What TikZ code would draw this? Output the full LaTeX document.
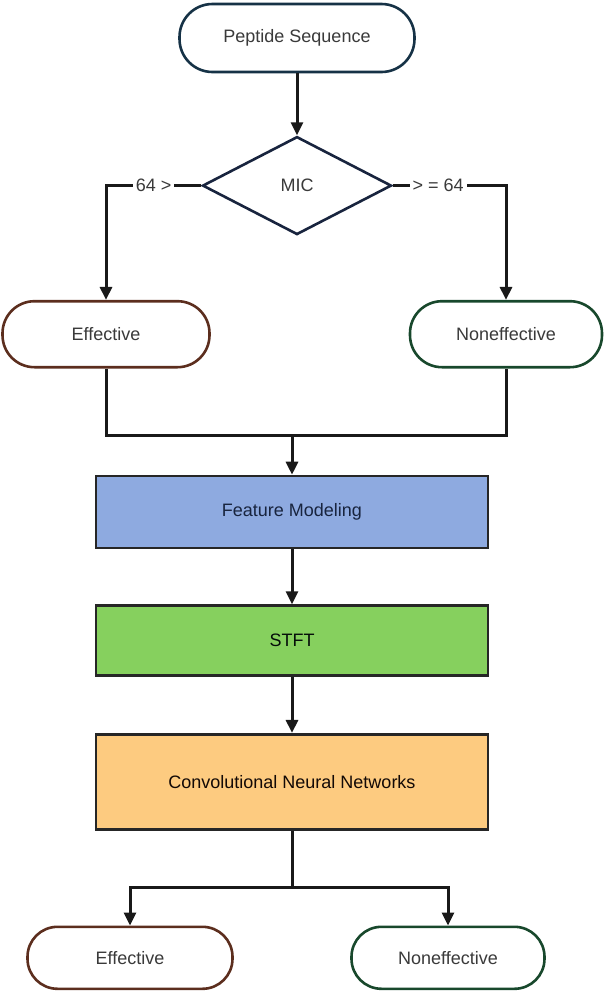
\documentclass[tikz,border=0pt]{standalone}
\usepackage{fontspec}
\setmainfont{Liberation Sans}
\usepackage{tikz}
\usetikzlibrary{positioning, shapes.geometric, arrows.meta, calc}
\definecolor{bleunuit}{RGB}{22, 50, 70}
\definecolor{marine}{RGB}{24, 36, 62}
\definecolor{brunfonce}{RGB}{92, 46, 30}
\definecolor{vertfonce}{RGB}{24, 72, 44}
\definecolor{bleuclair}{RGB}{142, 170, 224}
\definecolor{vertvif}{RGB}{134, 208, 94}
\definecolor{orangeclair}{RGB}{253, 203, 128}
\definecolor{gristexte}{RGB}{58, 58, 58}

\begin{document}
\begin{tikzpicture}[
    >={Triangle[length=13pt, width=12pt]},
    every node/.style={font=\fontsize{18}{21}\selectfont, text=gristexte},
    capsule/.style={rectangle, rounded corners=32pt, draw, line width=2.6pt,
                    fill=white, minimum height=66pt},
    losange/.style={diamond, draw=marine, line width=2.6pt, fill=white,
                    minimum width=189pt, minimum height=98pt, inner sep=0pt},
    boite/.style={rectangle, draw=black!85, line width=2.6pt, minimum width=392pt},
    fleche/.style={->, line width=3pt, black!90},
    trait/.style={line width=3pt, black!90},
    etiq/.style={fill=white, inner sep=3pt}]
    \useasboundingbox (0,0) rectangle (606pt,-999pt);
    % entrée et test sur la CMI
    \node[capsule, draw=bleunuit, minimum width=235pt, minimum height=68pt, rounded corners=33pt] (pep) at (297pt,-38pt) {Peptide Sequence};
    \node[losange, below=62pt of pep] (mic) {MIC};
    \node[capsule, draw=brunfonce, minimum width=207pt, below=64pt of mic, xshift=-191pt] (eff1) {Effective};
    \node[capsule, draw=vertfonce, minimum width=192pt, below=64pt of mic, xshift=209pt] (non1) {Noneffective};
    \draw[fleche] (pep) -- (mic);
    \draw[fleche] (mic.west) -| node[etiq, pos=0.25] (gauche) {64 >} (eff1.north);
    \draw[fleche] (mic.east) -| node[etiq, pos=0.2] (droite) {> = 64} (non1.north);
    % chaîne de traitement
    \node[boite, fill=bleuclair, text=marine, minimum height=72pt] (feat) at (292pt,-512pt) {Feature Modeling};
    \node[boite, fill=vertvif, text=black!80!vertfonce, minimum height=70pt, below=55pt of feat] (stft) {STFT};
    \node[boite, fill=orangeclair, text=black!80!brunfonce, minimum height=95pt, below=56pt of stft] (cnn) {Convolutional Neural Networks};
    \coordinate (fusion) at ($(feat.north)+(0,39pt)$);
    \draw[trait] (eff1.south) |- (fusion) -| (non1.south);
    \draw[fleche] (fusion) -- (feat);
    \draw[fleche] (feat) -- (stft);
    \draw[fleche] (stft) -- (cnn);
    % sorties du réseau
    \node[capsule, draw=brunfonce, minimum width=205pt, minimum height=62pt, rounded corners=30pt, below=95pt of cnn, xshift=-162pt] (eff2) {Effective};
    \node[capsule, draw=vertfonce, minimum width=193pt, minimum height=62pt, rounded corners=30pt, below=95pt of cnn, xshift=156pt] (non2) {Noneffective};
    \coordinate (partage) at ($(cnn.south)+(0,-57pt)$);
    \draw[trait] (cnn) -- (partage);
    \draw[fleche] (partage) -| (eff2.north);
    \draw[fleche] (partage) -| (non2.north);
\end{tikzpicture}
\end{document}
